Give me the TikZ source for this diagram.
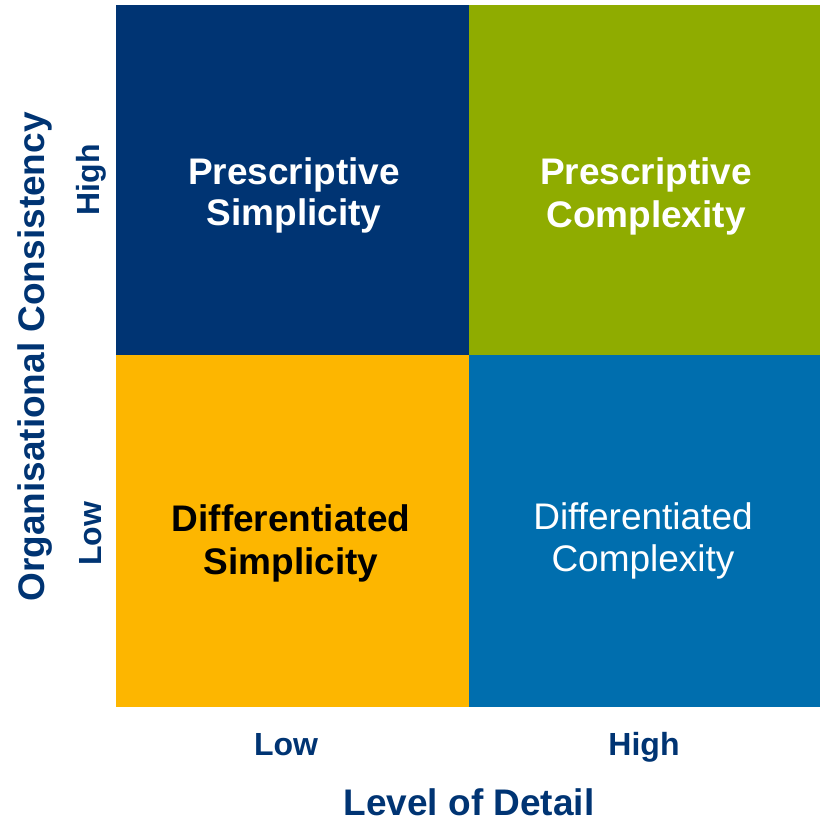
\documentclass[tikz,border=0pt]{standalone}
\usepackage{fontspec}
\setmainfont{Liberation Sans}
\definecolor{navy}{HTML}{003473}
\definecolor{olive}{HTML}{8FAC00}
\definecolor{amber}{HTML}{FDB600}
\definecolor{ocean}{HTML}{006EAE}
\begin{document}
\begin{tikzpicture}[x=1pt,y=-1pt,
  quad/.style={align=center,font=\fontsize{37}{42}\selectfont,inner sep=0pt},
  tick/.style={text=navy,font=\bfseries\fontsize{32}{36}\selectfont,inner sep=0pt},
  axis/.style={text=navy,font=\bfseries\fontsize{37}{42}\selectfont,inner sep=0pt}]
\useasboundingbox (0,0) rectangle (820,819);
% quadrants
\fill[navy]  (116,5)   rectangle (469,355);
\fill[olive] (469,5)   rectangle (820,355);
\fill[amber] (116,355) rectangle (469,707);
\fill[ocean] (469,355) rectangle (820,707);
% quadrant labels
\node[quad,text=white,font=\bfseries\fontsize{37}{41}\selectfont] (ps) at (294,195) {Prescriptive\\Simplicity};
\node[quad,text=white,font=\bfseries\fontsize{37}{43}\selectfont] (pc) at (646,196) {Prescriptive\\Complexity};
\node[quad,text=black,font=\bfseries\fontsize{37}{43}\selectfont] (ds) at (291,543) {Differentiated\\Simplicity};
\node[quad,text=white] (dc) at (643,541) {Differentiated\\Complexity};
% axis ticks
\node[tick,anchor=base] (xlow)  at (286,755) {Low};
\node[tick,anchor=base] (xhigh) at (644,755) {High};
\node[tick,rotate=90] (ylow)  at (91,534) {Low};
\node[tick,rotate=90] (yhigh) at (91,180) {High};
% axis titles
\node[axis,anchor=base] (xt) at (469,815) {Level of Detail};
\node[axis,rotate=90] (yt) at (35,357) {Organisational Consistency};
\end{tikzpicture}
\end{document}
